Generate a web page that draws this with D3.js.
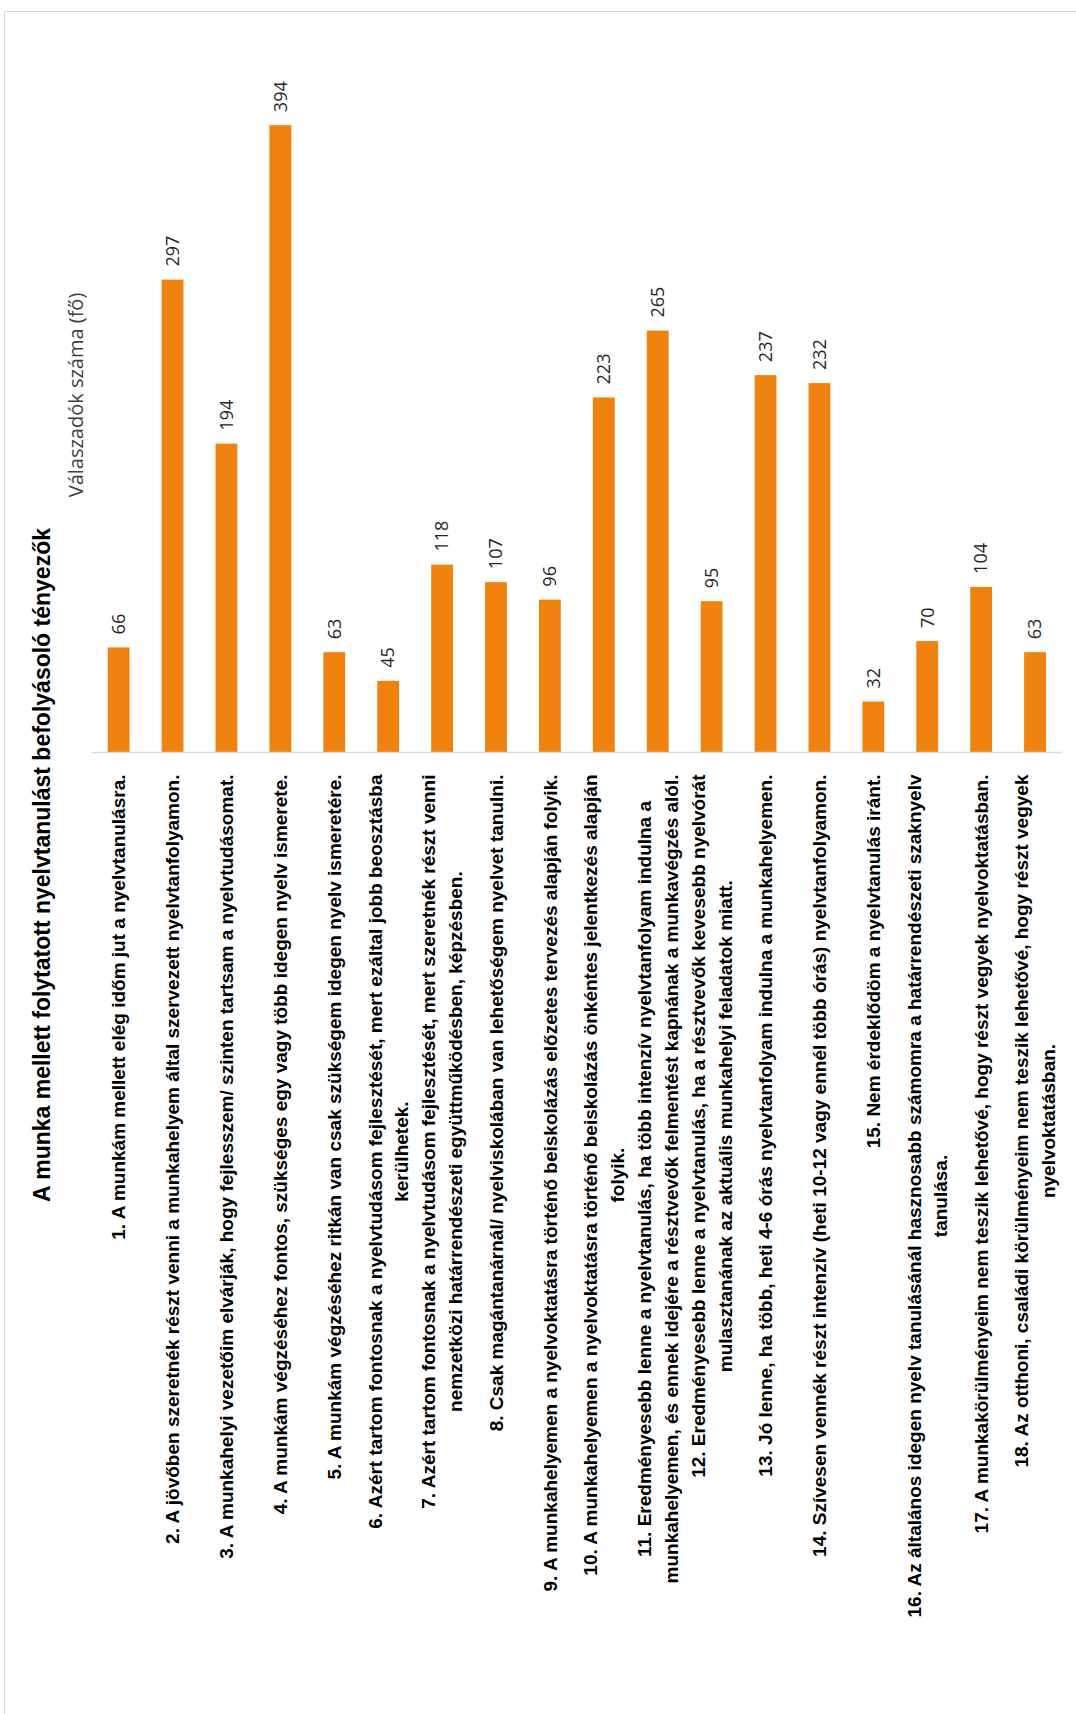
<!DOCTYPE html>
<html>
<head>
<meta charset="utf-8">
<script src="https://cdn.jsdelivr.net/npm/d3@7"></script>
<style>
  body { margin: 0; background: #fff; }
</style>
</head>
<body>
<script>
// answers, each split into the lines the original wraps them into
const categories = [
  ["1. A munkám mellett elég időm jut a nyelvtanulásra."],
  ["2. A jövőben szeretnék részt venni a munkahelyem által szervezett nyelvtanfolyamon."],
  ["3. A munkahelyi vezetőim elvárják, hogy fejlesszem/ szinten tartsam a nyelvtudásomat."],
  ["4. A munkám végzéséhez fontos, szükséges egy vagy több idegen nyelv ismerete."],
  ["5. A munkám végzéséhez ritkán van csak szükségem idegen nyelv ismeretére."],
  ["6. Azért tartom fontosnak a nyelvtudásom fejlesztését, mert ezáltal jobb beosztásba", "kerülhetek."],
  ["7. Azért tartom fontosnak a nyelvtudásom fejlesztését, mert szeretnék részt venni", "nemzetközi határrendészeti együttműködésben, képzésben."],
  ["8. Csak magántanárnál/ nyelviskolában van lehetőségem nyelvet tanulni."],
  ["9. A munkahelyemen a nyelvoktatásra történő beiskolázás előzetes tervezés alapján folyik."],
  ["10. A munkahelyemen a nyelvoktatásra történő beiskolázás önkéntes jelentkezés alapján", "folyik."],
  ["11. Eredményesebb lenne a nyelvtanulás, ha több intenzív nyelvtanfolyam indulna a", "munkahelyemen, és ennek idejére a résztvevők felmentést kapnának a munkavégzés alól."],
  ["12. Eredményesebb lenne a nyelvtanulás, ha a résztvevők kevesebb nyelvórát", "mulasztanának az aktuális munkahelyi feladatok miatt."],
  ["13. Jó lenne, ha több, heti 4-6 órás nyelvtanfolyam indulna a munkahelyemen."],
  ["14. Szívesen vennék részt intenzív (heti 10-12 vagy ennél több órás) nyelvtanfolyamon."],
  ["15. Nem érdeklődöm a nyelvtanulás iránt."],
  ["16. Az általános idegen nyelv tanulásánál hasznosabb számomra a határrendészeti szaknyelv", "tanulása."],
  ["17. A munkakörülményeim nem teszik lehetővé, hogy részt vegyek nyelvoktatásban."],
  ["18. Az otthoni, családi körülményeim nem teszik lehetővé, hogy részt vegyek", "nyelvoktatásban."]
];
const values = [66, 297, 194, 394, 63, 45, 118, 107, 96, 223, 265, 95, 237, 232, 32, 70, 104, 63];
const yDomain = [0, 450];

const chartTitle = "A munka mellett folytatott nyelvtanulást befolyásoló tényezők";
const axisTitle = "Válaszadók száma (fő)";

const width = 1076;
const height = 1714;
const orange = "#f0820f";

const svg = d3.select("body")
  .append("svg")
  .attr("width", width)
  .attr("height", height);

// chart frame (runs off the page on the right and bottom)
svg.append("rect")
  .attr("x", 4.5)
  .attr("y", 11.5)
  .attr("width", width + 20)
  .attr("height", height + 20)
  .attr("fill", "none")
  .attr("stroke", "#d9d9d9");

const ids = categories.map((c, i) => i);

const x = d3.scaleBand()
  .domain(ids)
  .range([91.7, 1062]);

const y = d3.scaleLinear()
  .domain(yDomain)
  .range([752.5, 36]);

const barW = x.bandwidth() * 0.405;

svg.append("g")
  .selectAll("rect")
  .data(values)
  .enter()
  .append("rect")
  .attr("x", (d, i) => x(i) + (x.bandwidth() - barW) / 2)
  .attr("y", d => y(d))
  .attr("width", barW)
  .attr("height", d => y(0) - y(d))
  .attr("fill", orange);

// baseline
svg.append("line")
  .attr("x1", x.range()[0])
  .attr("x2", x.range()[1])
  .attr("y1", y(0))
  .attr("y2", y(0))
  .attr("stroke", "#d9d9d9")
  .attr("stroke-width", 1.3);

// value labels, turned like the rest of the chart
svg.append("g")
  .selectAll("text")
  .data(values)
  .enter()
  .append("text")
  .attr("transform", (d, i) => `translate(${x(i) + x.bandwidth() / 2}, ${y(d) - 13}) rotate(-90)`)
  .attr("dy", "0.35em")
  .attr("font-family", "'Open Sans', sans-serif")
  .attr("font-size", 18)
  .attr("fill", "#262626")
  .text(d => d);

// category labels
const lineGap = 26.5;
const labelTop = y(0) + 22;

const labelGroups = svg.append("g")
  .selectAll("g")
  .data(categories)
  .enter()
  .append("g");

labelGroups.each(function (lines, i) {
  const g = d3.select(this);
  const cx = x(i) + x.bandwidth() / 2;
  const texts = lines.map((line, k) => g.append("text")
    .attr("font-family", "'Liberation Sans Narrow', 'Liberation Sans', sans-serif")
    .attr("font-weight", "bold")
    .attr("font-size", 19)
    .attr("fill", "#000")
    .attr("text-anchor", "middle")
    .attr("dy", "0.35em")
    .text(line));
  const maxLen = d3.max(texts, t => t.node().getComputedTextLength());
  texts.forEach((t, k) => {
    const lx = cx + (k - (lines.length - 1) / 2) * lineGap;
    t.attr("transform", `translate(${lx}, ${labelTop + maxLen / 2}) rotate(-90)`);
  });
});

// axis title
svg.append("text")
  .attr("transform", "translate(76, 395) rotate(-90)")
  .attr("text-anchor", "middle")
  .attr("dy", "0.35em")
  .attr("font-family", "'Open Sans', sans-serif")
  .attr("font-size", 20)
  .attr("fill", "#404040")
  .text(axisTitle);

// chart title
svg.append("text")
  .attr("transform", "translate(42, 865) rotate(-90)")
  .attr("text-anchor", "middle")
  .attr("dy", "0.35em")
  .attr("font-family", "'Liberation Sans Narrow', 'Liberation Sans', sans-serif")
  .attr("font-weight", "bold")
  .attr("font-size", 23)
  .attr("fill", "#000")
  .text(chartTitle);
</script>
</body>
</html>
